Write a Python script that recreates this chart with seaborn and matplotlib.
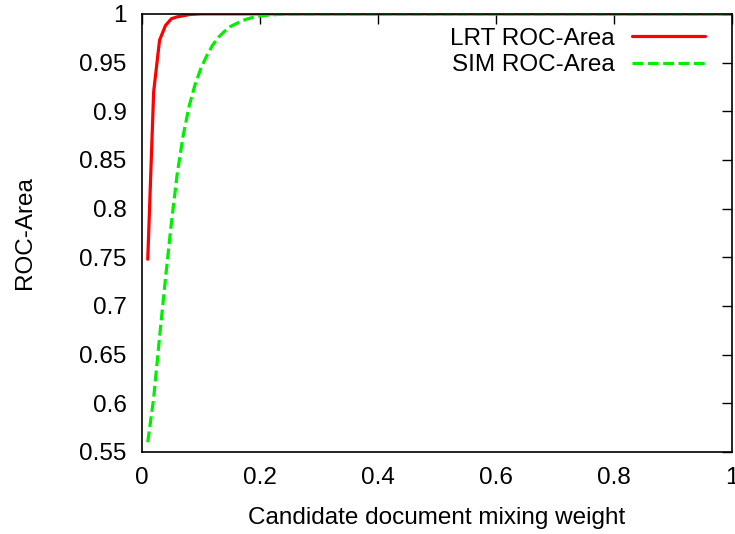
import matplotlib
matplotlib.use("Agg")
import matplotlib.pyplot as plt
import seaborn as sns
import pandas as pd

x_vals = [0.01, 0.02, 0.03, 0.04, 0.05, 0.06, 0.07, 0.08, 0.09, 0.10,
          0.11, 0.12, 0.13, 0.14, 0.15, 0.16, 0.17, 0.18, 0.19, 0.20,
          0.21, 0.22, 0.23, 0.24, 0.25, 0.26, 0.28, 0.30, 0.40, 0.50,
          0.60, 0.70, 0.80, 0.90, 1.00]
lrt_roc = [0.748, 0.920, 0.973, 0.988, 0.995, 0.997, 0.998, 0.9993, 0.9997, 1.0,
           1.0, 1.0, 1.0, 1.0, 1.0, 1.0, 1.0, 1.0, 1.0, 1.0,
           1.0, 1.0, 1.0, 1.0, 1.0, 1.0, 1.0, 1.0, 1.0, 1.0,
           1.0, 1.0, 1.0, 1.0, 1.0]
sim_roc = [0.560, 0.605, 0.668, 0.728, 0.785, 0.836, 0.875, 0.905, 0.927, 0.944,
           0.957, 0.968, 0.976, 0.982, 0.987, 0.990, 0.993, 0.995, 0.9967, 0.9978,
           0.9985, 0.999, 0.9994, 0.9996, 0.9998, 0.9999, 1.0, 1.0, 1.0, 1.0,
           1.0, 1.0, 1.0, 1.0, 1.0]
series_names = ["LRT ROC-Area", "SIM ROC-Area"]
x_ticks = [0, 0.2, 0.4, 0.6, 0.8, 1]
x_tick_labels = ["0", "0.2", "0.4", "0.6", "0.8", "1"]
y_ticks = [0.55, 0.6, 0.65, 0.7, 0.75, 0.8, 0.85, 0.9, 0.95, 1]
y_tick_labels = ["0.55", "0.6", "0.65", "0.7", "0.75", "0.8", "0.85", "0.9", "0.95", "1"]

sns.set_style("white")
plt.rcParams['font.family'] = ['Liberation Sans', 'DejaVu Sans']
plt.rcParams['text.color'] = 'black'
plt.rcParams['axes.labelcolor'] = 'black'

df = pd.DataFrame({
    "x": x_vals * 2,
    "y": lrt_roc + sim_roc,
    "series": [series_names[0]] * len(x_vals) + [series_names[1]] * len(x_vals),
})

fig = plt.figure(figsize=(7.35, 5.34), dpi=100)
ax = fig.add_axes([0.193, 0.1536, 0.803, 0.8204])

dash = (3.4, 1.4)
sns.lineplot(data=df, x="x", y="y", hue="series", style="series",
             palette={series_names[0]: "#ff0000", series_names[1]: "#00ee00"},
             dashes={series_names[0]: "", series_names[1]: dash},
             linewidth=2.3, ax=ax, legend=False)

for name, color, ls in [(series_names[0], "#ff0000", "-"), (series_names[1], "#00ee00", (0, dash))]:
    ax.plot([], [], color=color, linestyle=ls, linewidth=2.3, label=name)

ax.set_xlim(0, 1)
ax.set_ylim(0.55, 1)
ax.set_xticks(x_ticks)
ax.set_xticklabels(x_tick_labels)
ax.set_yticks(y_ticks)
ax.set_yticklabels(y_tick_labels)
ax.tick_params(direction="in", length=7.5, width=1, top=True, right=True,
               labelsize=17.5, colors="black")
ax.tick_params(axis="y", pad=11)
ax.tick_params(axis="x", pad=11)
for s in ax.spines.values():
    s.set_color("black")
    s.set_linewidth(1.2)
ax.set_xlabel("Candidate document mixing weight", fontsize=17.5, labelpad=13)
ax.set_ylabel("ROC-Area", fontsize=17.5, labelpad=31)

leg = ax.legend(loc="upper right", frameon=False, fontsize=17.5, markerfirst=False,
                handlelength=3.0, handletextpad=0.7, borderaxespad=0,
                borderpad=0, labelspacing=0.17,
                bbox_to_anchor=(0.954, 0.968))

fig.savefig("out.png", dpi=100)
